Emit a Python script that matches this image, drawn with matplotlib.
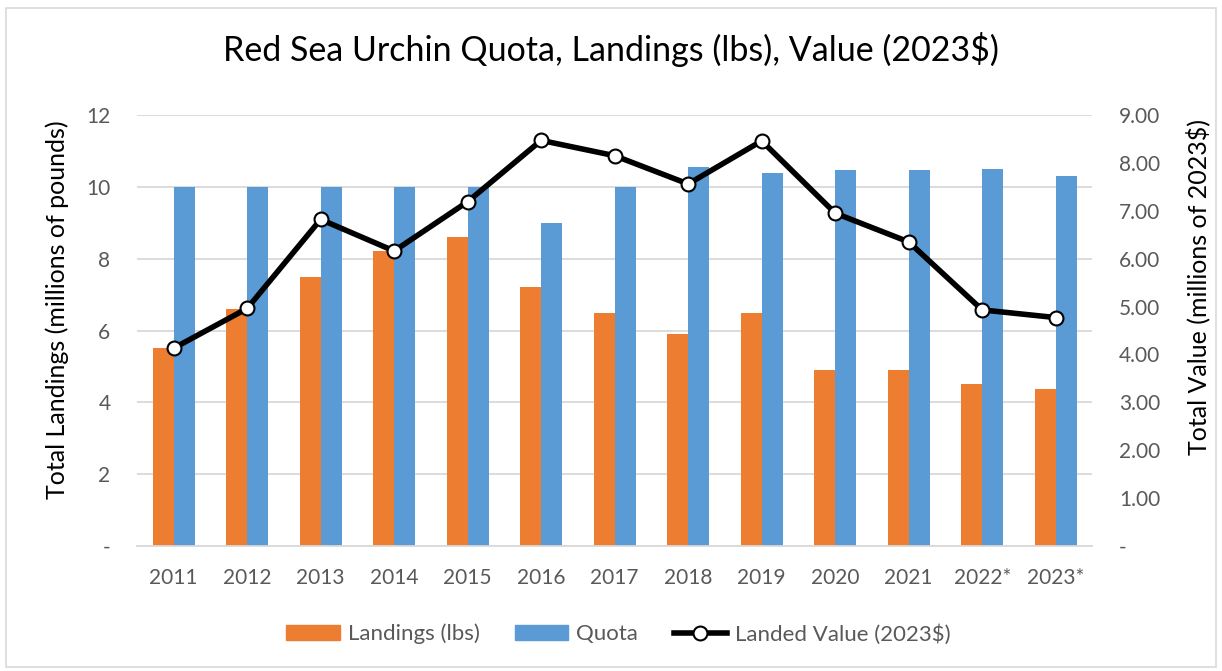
import matplotlib
matplotlib.use("Agg")
import matplotlib.pyplot as plt
from matplotlib.lines import Line2D
from matplotlib.patches import Patch, Rectangle
import numpy as np

years = ["2011", "2012", "2013", "2014", "2015", "2016", "2017", "2018", "2019", "2020", "2021", "2022*", "2023*"]
landings = [5.5, 6.6, 7.5, 8.2, 8.6, 7.2, 6.5, 5.9, 6.5, 4.9, 4.9, 4.5, 4.37]
quota = [10.0, 10.0, 10.0, 10.0, 10.0, 9.0, 10.0, 10.55, 10.38, 10.47, 10.47, 10.51, 10.3]
value = [4.13, 4.96, 6.82, 6.16, 7.19, 8.47, 8.15, 7.56, 8.46, 6.95, 6.35, 4.93, 4.77]

left_ticks = [0, 2, 4, 6, 8, 10, 12]
left_labels = ["-", "2", "4", "6", "8", "10", "12"]
right_ticks = [0, 1, 2, 3, 4, 5, 6, 7, 8, 9]
right_labels = ["-"] + ["%.2f" % v for v in right_ticks[1:]]

plt.rcParams['font.family'] = ['Lato', 'DejaVu Sans']
gray = "#595959"
orange = "#ED7D31"
blue = "#5B9BD5"

fig = plt.figure(figsize=(12.22, 6.71), dpi=100)
fig.patches.append(Rectangle((0.005, 0.006), 0.99, 0.982, transform=fig.transFigure,
                             fill=False, edgecolor="#d9d9d9", linewidth=1.2))
ax = fig.add_axes([0.112, 0.1863, 0.782, 0.6423])
x = np.arange(len(years))
w = 0.285
ax.bar(x - w / 2, landings, width=w, color=orange, zorder=2, label="Landings (lbs)")
ax.bar(x + w / 2, quota, width=w, color=blue, zorder=2, label="Quota")
ax.set_xlim(-0.5, len(years) - 0.5)
ax.set_ylim(0, 12)
ax.set_yticks(left_ticks)
ax.set_yticklabels(left_labels)
ax.set_xticks(x)
ax.set_xticklabels(years)
ax.grid(axis='y', color="#d9d9d9", linewidth=1.3, zorder=0)
ax.set_axisbelow(True)
for s in ["top", "left", "right"]:
    ax.spines[s].set_visible(False)
ax.spines["bottom"].set_color("#d9d9d9")
ax.spines["bottom"].set_linewidth(1.3)
ax.tick_params(axis='both', length=0, colors=gray, labelsize=15)
ax.tick_params(axis='y', pad=19)
ax.tick_params(axis='x', pad=16)
ax.set_ylabel("Total Landings (millions of pounds)", fontsize=18, color="black")
ax.yaxis.set_label_coords(69 / 1222, (671 - 310) / 671, transform=fig.transFigure)

ax2 = ax.twinx()
ax2.plot(x, value, color="black", linewidth=4, marker="o", markersize=10,
         markerfacecolor="white", markeredgecolor="black", markeredgewidth=1.5, zorder=3,
         label="Landed Value (2023$)")
ax2.set_ylim(0, 9)
ax2.set_yticks(right_ticks)
ax2.set_yticklabels(right_labels)
for s in ["top", "left", "right", "bottom"]:
    ax2.spines[s].set_visible(False)
ax2.tick_params(axis='y', length=0, colors=gray, labelsize=15, pad=19)
ax2.set_ylabel("Total Value (millions of 2023$)", fontsize=18, color="black")
ax2.yaxis.set_label_coords(1186 / 1222, (671 - 287) / 671, transform=fig.transFigure)

fig.suptitle("Red Sea Urchin Quota, Landings (lbs), Value (2023$)", fontsize=24.5, y=0.952)

handles = [Patch(color=orange), Patch(color=blue),
           Line2D([0], [0], color="black", linewidth=4, marker="o", markersize=10,
                  markerfacecolor="white", markeredgecolor="black", markeredgewidth=1.5)]
labels = ["Landings (lbs)", "Quota", "Landed Value (2023$)"]
leg = fig.legend(handles, labels, loc="center", bbox_to_anchor=(0.506, 0.055), ncol=3,
                 frameon=False, fontsize=16, handlelength=2.4, columnspacing=1.6,
                 handletextpad=0.35)
for t in leg.get_texts():
    t.set_color(gray)

fig.savefig("out.png", dpi=100)
